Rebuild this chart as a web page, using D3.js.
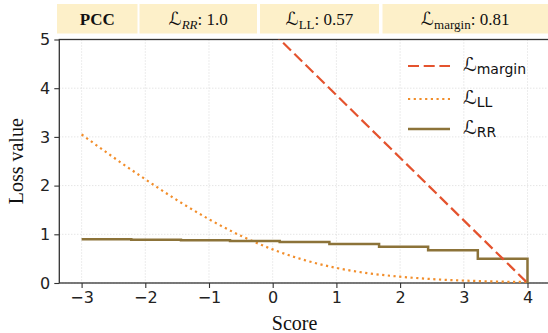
<!DOCTYPE html>
<html>
<head>
<meta charset="utf-8">
<script src="https://cdn.jsdelivr.net/npm/d3@7"></script>
<style>
  body { margin: 0; background: #fff; }
  svg { display: block; }
</style>
</head>
<body>
<div id="chart"></div>
<script>
// Values
const xTicks = [-3, -2, -1, 0, 1, 2, 3, 4];
const yTicks = [0, 1, 2, 3, 4, 5];

// L_margin: straight dashed line, clipped at the top of the axes
const marginScore = [-3, 4];
const marginLoss = [9.0, 0];

// L_LL: smooth dotted curve
const llScore = [-3, -2.5, -2, -1.5, -1, -0.5, 0, 0.5, 1, 1.5, 2, 2.5, 3, 3.5, 4];
const llLoss = [3.05, 2.58, 2.13, 1.70, 1.31, 0.97, 0.69, 0.47, 0.31, 0.20, 0.13, 0.08, 0.05, 0.03, 0.02];

// L_RR: step function (value holds until next edge)
const rrScore = [-3, -2.22, -1.44, -0.67, 0.11, 0.89, 1.67, 2.44, 3.22, 4.0];
const rrLoss = [0.90, 0.89, 0.877, 0.86, 0.84, 0.80, 0.745, 0.675, 0.50, 0];

// header table
const headerCells = [
    { main: "PCC", bold: true },
    { main: "ℒ", sub: "RR", subItalic: true, value: ": 1.0" },
    { main: "ℒ", sub: "LL", value: ": 0.57" },
    { main: "ℒ", sub: "margin", value: ": 0.81" }
];
const headerEdges = [57, 137.5, 139.5, 257, 260, 379, 382.5, 548];

const width = 548, height = 333;
const margin = { top: 39.5, left: 59.3 };
const plotW = 7.7 * 63.7, plotH = 243.5;

const colMargin = "#e4532e", colLL = "#f28e2b", colRR = "#8c7339";

const svg = d3.select("#chart").append("svg")
    .attr("width", width)
    .attr("height", height);

// header
const header = svg.append("g");
headerCells.forEach((c, i) => {
    const x0 = headerEdges[i * 2], x1 = headerEdges[i * 2 + 1];
    header.append("rect")
        .attr("x", x0).attr("y", 4)
        .attr("width", x1 - x0).attr("height", 29.5)
        .attr("fill", "#fdf0c9");
    const t = header.append("text")
        .attr("x", (x0 + x1) / 2)
        .attr("y", 25)
        .attr("text-anchor", "middle")
        .style("font-family", "'Liberation Serif', 'Times New Roman', serif")
        .style("font-size", "17px")
        .attr("fill", "#111");
    if (c.bold) {
        t.style("font-weight", "bold").text(c.main);
        return;
    }
    t.append("tspan").style("font-family", "'DejaVu Sans', sans-serif").style("font-size", "18px").text(c.main);
    t.append("tspan").attr("dy", 4).style("font-size", "13px")
        .style("font-style", c.subItalic ? "italic" : "normal").text(c.sub);
    t.append("tspan").attr("dy", -4).text(c.value);
});

const g = svg.append("g")
    .attr("transform", "translate(" + margin.left + "," + margin.top + ")");

const x = d3.scaleLinear().domain([-3.35, 4.35]).range([0, plotW]);
const y = d3.scaleLinear().domain([0, 5]).range([plotH, 0]);

g.append("clipPath").attr("id", "clip")
    .append("rect").attr("width", plotW).attr("height", plotH);

// grid
g.append("g").selectAll("line").data(xTicks).join("line")
    .attr("x1", d => x(d)).attr("x2", d => x(d))
    .attr("y1", 0).attr("y2", plotH)
    .attr("stroke", "#d0d0d0").attr("stroke-width", 0.8)
    .attr("stroke-dasharray", "1,2");
g.append("g").selectAll("line").data(yTicks).join("line")
    .attr("x1", 0).attr("x2", plotW)
    .attr("y1", d => y(d)).attr("y2", d => y(d))
    .attr("stroke", "#d0d0d0").attr("stroke-width", 0.8)
    .attr("stroke-dasharray", "1,2");

// axes
const xAxis = g.append("g")
    .attr("transform", "translate(0," + plotH + ")")
    .call(d3.axisBottom(x).tickValues(xTicks).tickSize(5).tickPadding(4)
        .tickFormat(d => d < 0 ? "\u2212" + Math.abs(d) : d));
const yAxis = g.append("g")
    .call(d3.axisLeft(y).tickValues(yTicks).tickSize(5).tickPadding(4)
        .tickFormat(d3.format("d")));
[xAxis, yAxis].forEach(a => {
    a.select(".domain").remove();
    a.selectAll("line").attr("stroke", "#333").attr("stroke-width", 1.1);
    a.selectAll("text")
        .style("font-family", "'DejaVu Sans', sans-serif")
        .style("font-size", "16px")
        .attr("fill", "#222");
});

// frame
g.append("rect")
    .attr("width", plotW).attr("height", plotH)
    .attr("fill", "none")
    .attr("stroke", "#333").attr("stroke-width", 1.3);

const plot = g.append("g").attr("clip-path", "url(#clip)");

const lineGen = d3.line().x(d => x(d[0])).y(d => y(d[1]));

plot.append("path")
    .datum(d3.zip(llScore, llLoss))
    .attr("d", lineGen.curve(d3.curveMonotoneX))
    .attr("fill", "none")
    .attr("stroke", colLL).attr("stroke-width", 2.2)
    .attr("stroke-dasharray", "2.2,3.5");

plot.append("path")
    .datum(d3.zip(rrScore, rrLoss))
    .attr("d", d3.line().x(d => x(d[0])).y(d => y(d[1])).curve(d3.curveStepAfter))
    .attr("fill", "none")
    .attr("stroke", colRR).attr("stroke-width", 2.5);

plot.append("path")
    .datum(d3.zip(marginScore, marginLoss))
    .attr("d", d3.line().x(d => x(d[0])).y(d => y(d[1])))
    .attr("fill", "none")
    .attr("stroke", colMargin).attr("stroke-width", 2.2)
    .attr("stroke-dasharray", "11,4.7");

// axis labels
svg.append("text")
    .attr("x", margin.left + x(0.5) - 10)
    .attr("y", 330)
    .attr("text-anchor", "middle")
    .style("font-family", "'Liberation Serif', 'Times New Roman', serif")
    .style("font-size", "20px")
    .attr("fill", "#111")
    .text("Score");
svg.append("text")
    .attr("transform", "translate(23," + (margin.top + plotH / 2) + ") rotate(-90)")
    .attr("text-anchor", "middle")
    .style("font-family", "'Liberation Serif', 'Times New Roman', serif")
    .style("font-size", "20px")
    .attr("fill", "#111")
    .text("Loss value");

// legend
const legendItems = [
    { sub: "margin", color: colMargin, dash: "11,4.7", w: 2.2 },
    { sub: "LL", color: colLL, dash: "2.2,3.5", w: 2.2 },
    { sub: "RR", color: colRR, dash: null, w: 2.5 }
];
const legend = svg.append("g").attr("transform", "translate(408,66)");
const li = legend.selectAll("g").data(legendItems).join("g")
    .attr("transform", (d, i) => "translate(0," + [0, 33, 63][i] + ")");
li.append("line")
    .attr("x1", 0).attr("x2", 42)
    .attr("stroke", d => d.color)
    .attr("stroke-width", d => d.w)
    .attr("stroke-dasharray", d => d.dash);
const lt = li.append("text")
    .attr("x", 55).attr("y", 5)
    .style("font-family", "'DejaVu Sans', sans-serif")
    .style("font-size", "17px")
    .attr("fill", "#111");
lt.append("tspan").style("font-size", "19px").text("ℒ");
lt.append("tspan").attr("dy", 3).style("font-size", "14px").text(d => d.sub);
</script>
</body>
</html>
